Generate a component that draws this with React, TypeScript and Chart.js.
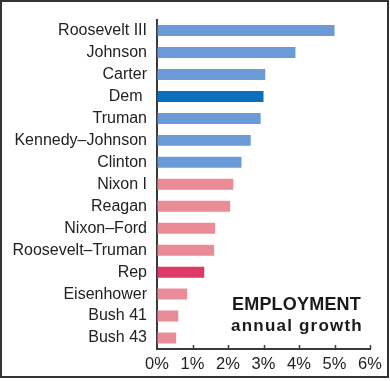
import React, { useEffect, useRef } from "react";
import { Chart, registerables } from "chart.js";

Chart.register(...registerables);

const categories = [
  "Roosevelt III",
  "Johnson",
  "Carter",
  "Dem ",
  "Truman",
  "Kennedy–Johnson",
  "Clinton",
  "Nixon I",
  "Reagan",
  "Nixon–Ford",
  "Roosevelt–Truman",
  "Rep",
  "Eisenhower",
  "Bush 41",
  "Bush 43",
];

const growth = [5.0, 3.9, 3.05, 3.0, 2.92, 2.64, 2.38, 2.15, 2.06, 1.64, 1.61, 1.33, 0.85, 0.6, 0.54];

const kinds = ["dem", "dem", "dem", "demAvg", "dem", "dem", "dem", "rep", "rep", "rep", "rep", "repAvg", "rep", "rep", "rep"];

const kindColors: Record<string, string> = {
  dem: "#6a9bd6",
  demAvg: "#0a6fbd",
  rep: "#e98c97",
  repAvg: "#dc3966",
};

const xTicks = [0, 1, 2, 3, 4, 5, 6];

const titleLines = ["EMPLOYMENT", "annual growth"];

const FONT = '"Liberation Sans", Arial, Helvetica, sans-serif';
const NARROW = '"Liberation Sans Narrow", "Arial Narrow", "Liberation Sans", sans-serif';

export default function App() {
  const ref = useRef<HTMLCanvasElement | null>(null);

  useEffect(() => {
    if (!ref.current) return;
    const innerTicks = {
      id: "innerTicks",
      afterDatasetsDraw(chart: any) {
        const { ctx, scales } = chart;
        const x = scales.x;
        const bottom = chart.chartArea.bottom;
        ctx.save();
        ctx.strokeStyle = "#3a3a3a";
        ctx.lineWidth = 1.5;
        xTicks.forEach((t) => {
          if (t === 0) return;
          const px = Math.round(x.getPixelForValue(t)) + 0.5;
          ctx.beginPath();
          ctx.moveTo(px, bottom);
          ctx.lineTo(px, bottom - 4);
          ctx.stroke();
        });
        ctx.restore();
      },
    };
    const titlePlugin = {
      id: "titleText",
      afterDraw(chart: any) {
        const { ctx } = chart;
        ctx.save();
        ctx.fillStyle = "#1a1a1a";
        ctx.textAlign = "center";
        ctx.textBaseline = "alphabetic";
        ctx.font = `bold 18px ${FONT}`;
        (ctx as any).letterSpacing = "0.2px";
        ctx.fillText(titleLines[0], 296.5, 309.5);
        ctx.font = `bold 17px ${FONT}`;
        (ctx as any).letterSpacing = "1.2px";
        ctx.fillText(titleLines[1], 297, 330.5);
        ctx.restore();
      },
    };
    const chart = new Chart(ref.current, {
      type: "bar",
      data: {
        labels: categories,
        datasets: [
          {
            data: growth,
            backgroundColor: kinds.map((k) => kindColors[k]),
            borderWidth: 0,
            barPercentage: 0.5,
            categoryPercentage: 1,
          },
        ],
      },
      options: {
        indexAxis: "y",
        animation: false,
        responsive: false,
        maintainAspectRatio: false,
        layout: { padding: { top: 17, right: 20, left: 0, bottom: 0 } },
        plugins: {
          legend: { display: false },
          tooltip: { enabled: false },
          title: { display: false },
        },
        scales: {
          x: {
            min: 0,
            max: 6,
            afterFit(scale: any) {
              scale.height = 32;
            },
            afterBuildTicks(scale: any) {
              scale.ticks = xTicks.map((v) => ({ value: v }));
            },
            grid: { display: true, drawOnChartArea: false, drawTicks: false },
            border: { display: true, color: "#3a3a3a", width: 2 },
            ticks: {
              padding: 6,
              color: "#222",
              font: { family: NARROW, size: 16.5 },
              callback: (v: any) => `${v}%`,
            },
          },
          y: {
            afterFit(scale: any) {
              scale.width = 157;
            },
            grid: { display: true, drawOnChartArea: false, drawTicks: false },
            border: { display: true, color: "#3a3a3a", width: 2 },
            ticks: {
              padding: 10,
              color: "#222",
              font: { family: FONT, size: 16 },
              autoSkip: false,
            },
          },
        },
      },
      plugins: [innerTicks, titlePlugin],
    });
    return () => chart.destroy();
  }, []);

  return (
    <div style={{ position: "fixed", left: 0, top: 0, width: 390, height: 381, background: "#fff" }}>
      <canvas ref={ref} width={390} height={381} style={{ display: "block", width: 390, height: 381 }} />
      <div
        style={{
          position: "absolute",
          left: 0,
          top: 0,
          width: 389,
          height: 378,
          border: "2px solid #333",
          boxSizing: "border-box",
          pointerEvents: "none",
        }}
      />
    </div>
  );
}
